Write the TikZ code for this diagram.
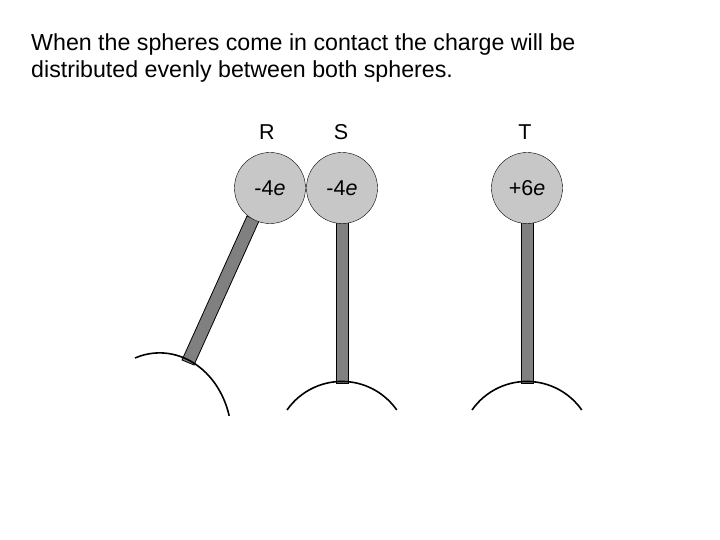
\documentclass[tikz,border=0pt]{standalone}
\usepackage{fontspec}
\setmainfont{Liberation Sans}
\begin{document}
\begin{tikzpicture}[x=1pt,y=-1pt,
  ball/.style={circle,draw,fill=black!22,minimum size=71pt,inner sep=0pt,font=\fontsize{21.5}{24}\selectfont},
  lbl/.style={font=\fontsize{21.5}{24}\selectfont},
  rod/.style={draw,fill=black!50,line width=0.8pt},
  base/.style={line width=1.6pt}]
\useasboundingbox (0,0) rectangle (720,540);
\node[anchor=north west,align=left,font=\fontsize{23.2}{27}\selectfont,inner sep=0pt] (title) at (31,33) {When the spheres come in contact the charge will be\\distributed evenly between both spheres.};
\node[lbl] (lr) at (267,132) {R};
\node[lbl] (ls) at (341,132) {S};
\node[lbl] (lt) at (525,132) {T};
% rods
\draw[rod] (247,216) -- (259,221) -- (194,365) -- (182,360) -- cycle;
\draw[rod] (336,222) rectangle (348,383);
\draw[rod] (521,222) rectangle (533,383);
\node[ball] (r) at (270,188) {-4\textit{e}};
\node[ball] (s) at (342,188) {-4\textit{e}};
\node[ball] (t) at (527,188) {+6\textit{e}};
% bases
\draw[base] (135,358) arc[start angle=-110,end angle=-15,x radius=72,y radius=85];
\draw[base] (287,410) arc[start angle=-145,end angle=-35,radius=67];
\draw[base] (472,410) arc[start angle=-145,end angle=-35,radius=67];
\end{tikzpicture}
\end{document}
